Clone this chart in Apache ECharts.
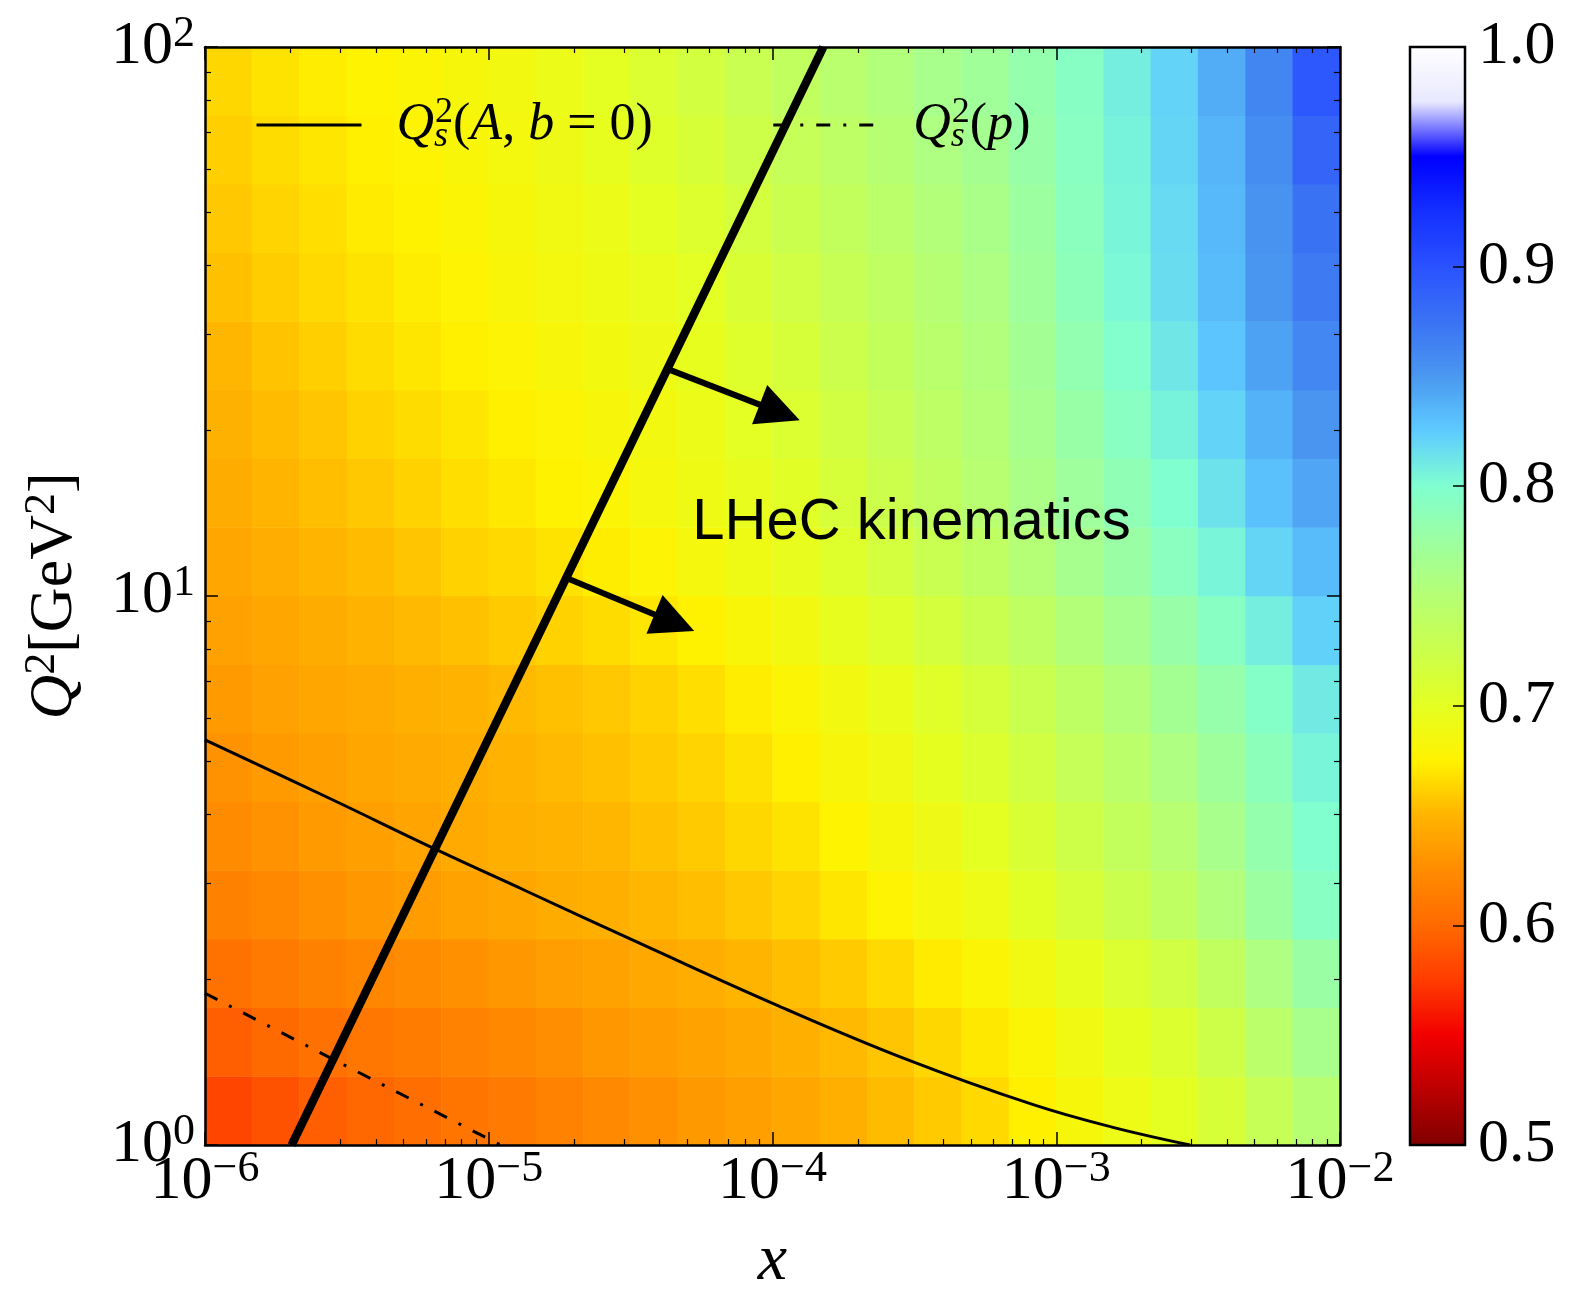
<!DOCTYPE html>
<html><head><meta charset="utf-8">
<script src="https://cdn.jsdelivr.net/npm/echarts@6/dist/echarts.min.js"></script>
<style>html,body{margin:0;padding:0;background:#fff}#c{width:1572px;height:1290px}</style>
</head><body><div id="c"></div>
<script>
// ---- data ----
const xCells = ['1.21e-6','1.78e-6','2.61e-6','3.83e-6','5.62e-6','8.25e-6','1.21e-5','1.78e-5','2.61e-5','3.83e-5','5.62e-5','8.25e-5',
                '1.21e-4','1.78e-4','2.61e-4','3.83e-4','5.62e-4','8.25e-4','1.21e-3','1.78e-3','2.61e-3','3.83e-3','5.62e-3','8.25e-3'];
const yCells = ['1.15','1.54','2.05','2.74','3.65','4.87','6.49','8.66','11.5','15.4','20.5','27.4','36.5','48.7','64.9','86.6'];
// rows from Q2 = 1 (bottom) to Q2 = 100 (top)
const heatValues = [
 [0.580,0.587,0.594,0.599,0.603,0.608,0.612,0.618,0.623,0.628,0.633,0.637,0.642,0.647,0.653,0.659,0.665,0.674,0.683,0.692,0.700,0.713,0.731,0.749],
 [0.594,0.600,0.605,0.609,0.613,0.618,0.622,0.627,0.632,0.635,0.639,0.643,0.647,0.652,0.657,0.664,0.671,0.679,0.688,0.698,0.708,0.723,0.744,0.763],
 [0.606,0.612,0.617,0.621,0.624,0.628,0.632,0.636,0.639,0.643,0.646,0.650,0.654,0.659,0.665,0.672,0.679,0.688,0.697,0.709,0.720,0.737,0.758,0.777],
 [0.617,0.622,0.628,0.632,0.635,0.639,0.642,0.645,0.647,0.651,0.654,0.658,0.663,0.670,0.677,0.684,0.692,0.702,0.714,0.726,0.738,0.754,0.775,0.793],
 [0.624,0.629,0.634,0.637,0.640,0.644,0.647,0.649,0.651,0.655,0.659,0.664,0.669,0.676,0.683,0.691,0.700,0.711,0.723,0.735,0.748,0.763,0.782,0.799],
 [0.629,0.634,0.637,0.641,0.644,0.646,0.649,0.652,0.655,0.659,0.663,0.668,0.674,0.682,0.689,0.698,0.708,0.719,0.732,0.744,0.758,0.772,0.789,0.805],
 [0.634,0.638,0.641,0.644,0.647,0.649,0.652,0.655,0.658,0.662,0.667,0.673,0.679,0.687,0.694,0.704,0.715,0.727,0.740,0.753,0.767,0.781,0.796,0.810],
 [0.638,0.642,0.645,0.649,0.652,0.655,0.659,0.662,0.666,0.670,0.675,0.681,0.687,0.697,0.706,0.716,0.727,0.739,0.752,0.765,0.779,0.793,0.808,0.822],
 [0.641,0.646,0.650,0.653,0.657,0.662,0.665,0.669,0.673,0.678,0.684,0.690,0.696,0.706,0.717,0.728,0.739,0.751,0.764,0.777,0.791,0.805,0.820,0.833],
 [0.645,0.650,0.654,0.658,0.662,0.667,0.671,0.675,0.679,0.684,0.690,0.696,0.703,0.714,0.725,0.737,0.748,0.760,0.773,0.786,0.800,0.814,0.830,0.843],
 [0.648,0.653,0.657,0.662,0.666,0.670,0.674,0.678,0.682,0.687,0.693,0.701,0.709,0.719,0.730,0.741,0.751,0.764,0.778,0.792,0.806,0.821,0.837,0.852],
 [0.651,0.656,0.661,0.666,0.670,0.674,0.678,0.682,0.686,0.691,0.697,0.706,0.714,0.725,0.734,0.745,0.754,0.768,0.784,0.798,0.812,0.828,0.845,0.861],
 [0.655,0.660,0.665,0.669,0.673,0.677,0.681,0.685,0.690,0.695,0.701,0.711,0.720,0.730,0.739,0.749,0.758,0.772,0.788,0.803,0.817,0.833,0.851,0.869],
 [0.658,0.663,0.667,0.672,0.675,0.679,0.683,0.688,0.693,0.700,0.707,0.717,0.726,0.735,0.744,0.753,0.762,0.775,0.790,0.805,0.818,0.834,0.853,0.875],
 [0.661,0.666,0.670,0.674,0.677,0.681,0.685,0.691,0.697,0.705,0.713,0.723,0.732,0.741,0.749,0.758,0.766,0.779,0.792,0.806,0.820,0.836,0.857,0.885],
 [0.664,0.669,0.673,0.676,0.679,0.683,0.687,0.693,0.700,0.709,0.718,0.728,0.737,0.746,0.754,0.763,0.771,0.782,0.794,0.808,0.821,0.840,0.862,0.895]
];
// LHeC kinematic limit (thick line)
const lhecX  = [2.02e-6, 1.51e-4];
const lhecQ2 = [1, 100];
// Qs^2(A, b=0)
const qsAX  = [1e-6, 2.825e-6, 6.625e-6, 1.331e-5, 3.73e-5, 1.054e-4, 2.954e-4, 8.35e-4, 1.572e-3, 2.961e-3];
const qsAQ2 = [5.47, 4.25, 3.44, 2.914, 2.281, 1.791, 1.434, 1.183, 1.078, 1.0];
// Qs^2(p)
const qspX  = [1e-6, 3e-6, 1.1e-5];
const qspQ2 = [1.89, 1.41, 1.0];
// arrows
const arrowFromX  = [4.28e-5, 1.87e-5];
const arrowFromQ2 = [25.9, 10.8];
const arrowToX    = [1.06e-4, 4.51e-5];
const arrowToQ2   = [21.6, 8.94];
// annotation
const noteX = [3.09e-4], noteQ2 = [13.58], noteText = ['LHeC kinematics'];
// ticks
const xTicks = [1e-6, 1e-5, 1e-4, 1e-3, 1e-2];
const xTickExp = ['\u22126', '\u22125', '\u22124', '\u22123', '\u22122'];
const yTicks = [1, 10, 100];
const yTickExp = ['0', '1', '2'];
const cbTicks = [0.5, 0.6, 0.7, 0.8, 0.9, 1.0];
const cbTickLabels = ['0.5', '0.6', '0.7', '0.8', '0.9', '1.0'];
const minorMantissa = [2, 3, 4, 5, 6, 7, 8, 9];
const xDecades = [1e-6, 1e-5, 1e-4, 1e-3];
const yDecades = [1, 10];
// colour map, 0.5 -> 1.0
const colorStops = ['#800000','#bb0000','#f20000','#ff3c00','#ff6a00','#ff8c00','#ffb400','#fff200','#e4ff22','#cbff4c',
                    '#b6ff74','#9cffa0','#80ffd0','#5ecbff','#4a98f0','#3a72f4','#2a52ff','#1430ff','#0000ff','#e8e8ff','#ffffff'];

// ---- build ----
const xMinor = [], yMinor = [];
xDecades.forEach(d => minorMantissa.forEach(m => xMinor.push(m * d)));
yDecades.forEach(d => minorMantissa.forEach(m => yMinor.push(m * d)));

const heatData = [];
heatValues.forEach((row, j) => row.forEach((v, i) => heatData.push([i, j, v])));

const SERIF = "'Liberation Serif','DejaVu Serif',serif";
const tickRich = {
  b: {fontFamily: SERIF, fontSize: 62, lineHeight: 70, color: '#000'},
  s: {fontFamily: SERIF, fontSize: 44, lineHeight: 32, verticalAlign: 'top', color: '#000'}
};
function findIdx(arr, v) {
  return arr.findIndex(t => Math.abs(Math.log10(t) - Math.log10(v)) < 1e-6);
}
const G = {left: 205, top: 47, width: 1135, height: 1098};
const lineBlack = {color: '#000', width: 2.5};

function logAxis(pos, min, max, opts) {
  return Object.assign({
    type: 'log', logBase: 10, gridIndex: 0, position: pos, min: min, max: max, z: 5,
    axisLine: {show: false, onZero: false, lineStyle: lineBlack},
    axisTick: {show: true, inside: true, length: 13, lineStyle: {color: '#000', width: 1.5}},
    axisLabel: {show: false},
    splitLine: {show: false}, minorTick: {show: false}, minorSplitLine: {show: false}
  }, opts);
}
const majorTick = vals => ({show: true, inside: true, length: 13, customValues: vals, lineStyle: {color: '#000', width: 1.5}});
const minorTick = vals => ({show: true, inside: true, length: 6, customValues: vals, lineStyle: {color: '#000', width: 1.2}});

const xAxes = [
  {type: 'category', gridIndex: 0, data: xCells, show: false},
  logAxis('bottom', 1e-6, 1e-2, {
    axisLine: {show: true, onZero: false, lineStyle: lineBlack},
    axisTick: majorTick(xTicks),
    axisLabel: {show: true, customValues: xTicks, margin: 2, showMinLabel: true, showMaxLabel: true,
      formatter: v => { const k = findIdx(xTicks, v); return k < 0 ? '' : '{b|10}{s|' + xTickExp[k] + '}'; },
      rich: tickRich},
    name: '{i|x}', nameLocation: 'middle', nameGap: 117,
    nameTextStyle: {verticalAlign: 'middle', rich: {i: {fontFamily: SERIF, fontStyle: 'italic', fontSize: 66, color: '#000'}}}
  }),
  logAxis('bottom', 1e-6, 1e-2, {axisTick: minorTick(xMinor)}),
  logAxis('top', 1e-6, 1e-2, {axisLine: {show: true, onZero: false, lineStyle: lineBlack}, axisTick: majorTick(xTicks)}),
  logAxis('top', 1e-6, 1e-2, {axisTick: minorTick(xMinor)}),
  {type: 'value', gridIndex: 1, show: false, min: 0, max: 1}
];
const yAxes = [
  {type: 'category', gridIndex: 0, data: yCells, show: false},
  logAxis('left', 1, 100, {
    axisLine: {show: true, onZero: false, lineStyle: lineBlack},
    axisTick: majorTick(yTicks),
    axisLabel: {show: true, customValues: yTicks, margin: 10, showMinLabel: true, showMaxLabel: true,
      formatter: v => { const k = findIdx(yTicks, v); return k < 0 ? '' : '{b|10}{s|' + yTickExp[k] + '}'; },
      rich: tickRich},
    name: '{i|Q}{p|2}{r|[GeV}{p|2}{r|]}', nameLocation: 'middle', nameGap: 150, nameRotate: 90,
    nameTextStyle: {verticalAlign: 'middle', rich: {
      i: {fontFamily: SERIF, fontStyle: 'italic', fontSize: 62, lineHeight: 70, color: '#000'},
      r: {fontFamily: SERIF, fontSize: 62, lineHeight: 70, color: '#000'},
      p: {fontFamily: SERIF, fontSize: 44, lineHeight: 32, verticalAlign: 'top', color: '#000'}
    }}
  }),
  logAxis('left', 1, 100, {axisTick: minorTick(yMinor)}),
  logAxis('right', 1, 100, {axisLine: {show: true, onZero: false, lineStyle: lineBlack}, axisTick: majorTick(yTicks)}),
  logAxis('right', 1, 100, {axisTick: minorTick(yMinor)}),
  {type: 'value', gridIndex: 1, position: 'right', min: 0.5, max: 1.0, interval: 0.1, z: 12,
   axisLine: {show: false, onZero: false},
   axisTick: {show: true, inside: true, length: 12, lineStyle: {color: '#000', width: 1.5}},
   splitLine: {show: false},
   axisLabel: {show: true, margin: 13, showMinLabel: true, showMaxLabel: true, fontFamily: SERIF, fontSize: 62, color: '#000',
     formatter: v => { const k = cbTicks.findIndex(t => Math.abs(t - v) < 1e-9); return k < 0 ? '' : cbTickLabels[k]; }}}
];

const legendRich = {
  sp: {width: 30},
  it: {fontFamily: SERIF, fontStyle: 'italic', fontSize: 52, lineHeight: 60, color: '#000'},
  rm: {fontFamily: SERIF, fontSize: 52, lineHeight: 60, color: '#000'},
  sb: {fontFamily: SERIF, fontStyle: 'italic', fontSize: 36, lineHeight: 30, verticalAlign: 'bottom', width: 1, color: '#000'},
  su: {fontFamily: SERIF, fontSize: 36, lineHeight: 30, verticalAlign: 'top', color: '#000'}
};
const legendText = {
  'QsA': '{sp|}{it|Q}{sb|s}{su|2}{rm|(}{it|A}{rm|, }{it|b}{rm| = 0)}',
  'Qsp': '{sp|}{it|Q}{sb|s}{su|2}{rm|(}{it|p}{rm|)}'
};

const chart = echarts.init(document.getElementById('c'), null, {renderer: 'canvas'});
chart.setOption({
  animation: false,
  backgroundColor: '#fff',
  grid: [
    Object.assign({outerBoundsMode: 'none', containLabel: false}, G),
    {left: 1410, top: 47, width: 55, height: 1098, show: true, borderColor: '#000', borderWidth: 2.5,
     backgroundColor: 'transparent', z: 10, outerBoundsMode: 'none', containLabel: false}
  ],
  xAxis: xAxes,
  yAxis: yAxes,
  visualMap: {
    type: 'continuous', min: 0.5, max: 1.0, seriesIndex: 0, calculable: false, hoverLink: false,
    inRange: {color: colorStops}, itemWidth: 55, itemHeight: 1098, left: 1410, top: 47, padding: 0,
    orient: 'vertical', text: null, textStyle: {fontSize: 0}
  },
  legend: {
    data: ['QsA', 'Qsp'], left: 250, top: 90, itemWidth: 105, itemHeight: 14, itemGap: 119,
    selectedMode: false,
    lineStyle: {width: 3},
    itemStyle: {opacity: 0, borderWidth: 0},
    formatter: name => legendText[name],
    textStyle: {rich: legendRich, fontFamily: SERIF, fontSize: 52, lineHeight: 60}
  },
  series: [
    {type: 'heatmap', xAxisIndex: 0, yAxisIndex: 0, data: heatData, silent: true, progressive: 0,
     itemStyle: {borderWidth: 0}, emphasis: {disabled: true}},
    {name: 'QsA', type: 'line', xAxisIndex: 1, yAxisIndex: 1, symbol: 'none', smooth: 0.4, silent: true, z: 3,
     data: qsAX.map((x, i) => [x, qsAQ2[i]]), lineStyle: {color: '#000', width: 3}, itemStyle: {color: '#000'}},
    {name: 'Qsp', type: 'line', xAxisIndex: 1, yAxisIndex: 1, symbol: 'none', silent: true, z: 3,
     data: qspX.map((x, i) => [x, qspQ2[i]]), lineStyle: {color: '#000', width: 3, type: [14, 13, 3, 13]}, itemStyle: {color: '#000'}},
    {name: 'LHeC', type: 'line', xAxisIndex: 1, yAxisIndex: 1, symbol: 'none', silent: true, z: 4,
     data: lhecX.map((x, i) => [x, lhecQ2[i]]), lineStyle: {color: '#000', width: 8.5}, itemStyle: {color: '#000'}},
    {name: 'arrows', type: 'lines', coordinateSystem: 'cartesian2d', xAxisIndex: 1, yAxisIndex: 1, silent: true, z: 4,
     symbol: ['none', 'triangle'], symbolSize: [1, [42, 43]],
     lineStyle: {color: '#000', width: 6, opacity: 1, curveness: 0},
     data: arrowFromX.map((x, i) => ({coords: [[x, arrowFromQ2[i]], [arrowToX[i], arrowToQ2[i]]]}))},
    {name: 'note', type: 'scatter', xAxisIndex: 1, yAxisIndex: 1, silent: true, z: 6, symbolSize: 1,
     itemStyle: {color: 'rgba(0,0,0,0)'},
     data: noteX.map((x, i) => [x, noteQ2[i]]),
     label: {show: true, position: 'inside', formatter: p => noteText[p.dataIndex], opacity: 1,
       fontFamily: "'Liberation Sans', Arial, sans-serif", fontSize: 58, color: '#000'}}
  ]
});
</script></body></html>
